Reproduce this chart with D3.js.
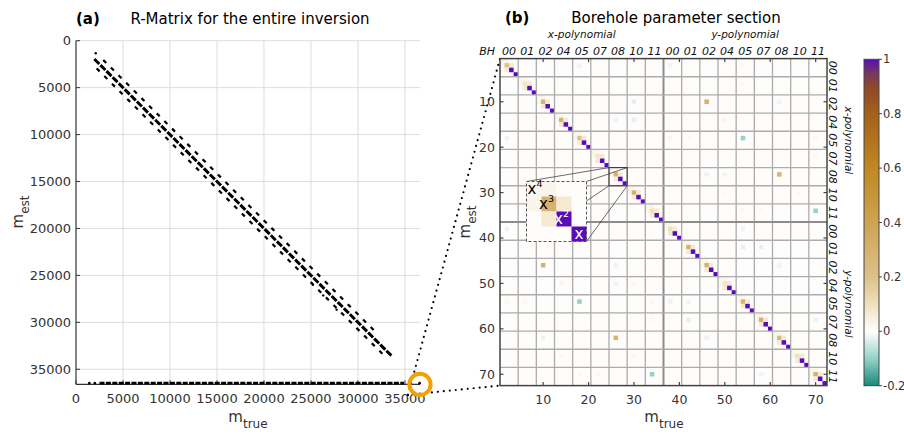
<!DOCTYPE html>
<html>
<head>
<meta charset="utf-8">
<script src="https://cdn.jsdelivr.net/npm/d3@7/dist/d3.min.js"></script>
<style>
  body { margin: 0; background: #fff; }
  svg { font-family: "DejaVu Sans", sans-serif; }
</style>
</head>
<body>
<svg id="chart" width="904" height="437"></svg>
<script>
// ---------- data : panel (a) ----------
const mTotal = 36600;
const ticksA = [0, 5000, 10000, 15000, 20000, 25000, 30000, 35000];
// diagonal bands of the R-matrix (m_est = m_true + offset)
const bandOffset = [0, -850, 750];
const bandStart = [1950, 2900, 2200];
const bandEnd = [33650, 32000, 32700];
const strayX = [2100, 26300, 27730, 25200];
const strayY = [1340, 27130, 28650, 26000];
// borehole parameter row at the bottom of the matrix
const bottomRowY = 36480;
const bottomRowStart = 2500;
const bottomRowEnd = 34900;
const bottomStrayX = [1420, 2000, 36560];
const zoomCenter = 36600;

// ---------- data : panel (b) ----------
const boreholes = ['00', '01', '02', '04', '05', '07', '08', '10', '11'];
const polyNames = ['x-polynomial', 'y-polynomial'];
const ticksB = [10, 20, 30, 40, 50, 60, 70];
const nPar = 72;
// one 4x4 block (x^4, x^3, x^2, x); the x^3 diagonal comes from x3Diag
const blockTemplate = [
  [0.03, 0.03, 0.01, 0],
  [0.03, null, 0.07, 0],
  [0.01, 0.07, 1.0, 0],
  [0, 0, 0, 1.0]
];
const x3Diag = [0.2, 0.08, 0.3, 0.3, 0.2, 0.08, 0.3, 0.3, 0.1,
                0.1, 0.3, 0.3, 0.08, 0.3, 0.3, 0.25, 0.1, 0.3];
const offRows = [10, 46, 18, 54, 26, 62, 34, 70,
                 10, 14, 14, 14, 18, 18, 18, 18, 22, 26, 26, 30, 30, 34, 34,
                 38, 38, 42, 42, 42, 46, 46, 50, 50, 50, 54, 54, 54, 54, 54,
                 58, 58, 58, 62, 62, 66, 66, 70, 70, 70, 6, 2, 2, 2, 10];
const offCols = [46, 10, 54, 18, 62, 26, 70, 34,
                 30, 26, 30, 50, 2, 38, 42, 70, 70, 46, 50, 50, 66, 54, 58,
                 2, 54, 18, 54, 58, 26, 62, 14, 26, 30, 2, 6, 34, 38, 42,
                 34, 42, 70, 10, 46, 14, 30, 18, 22, 58, 54, 54, 18, 38, 62];
const offVals = [0.3, 0.3, -0.1, -0.1, 0.28, 0.28, -0.1, -0.1,
                 -0.03, -0.02, -0.03, 0.03, -0.02, 0.03, 0.02, 0.02, 0.02, -0.02, -0.02, 0.02, 0.02, 0.02, 0.02,
                 -0.02, -0.02, 0.02, -0.03, -0.03, -0.02, -0.02, 0.03, -0.02, 0.02, 0.02, 0.02, 0.02, -0.02, -0.02,
                 0.02, -0.03, -0.02, -0.02, -0.02, 0.02, 0.02, 0.02, 0.02, -0.02, 0.02, 0.02, -0.02, -0.02, -0.02];
const insetFirst = 25; // parameters 25..28 (x-polynomial, borehole 08)
const insetLabels = ['x', 'x', 'x', 'x'];
const insetPowers = ['4', '3', '2', ''];

// colour map
const cmapVals = [-0.2, -0.1, 0, 0.1, 0.2, 0.4, 0.6, 0.8, 0.9, 0.95, 1];
const cmapColors = ['#19897a', '#94d3c8', '#ffffff', '#efdfbd', '#dcc18a', '#cea352',
                    '#c08822', '#a5601b', '#8e4828', '#763663', '#5a0bb9'];
const cbTicks = [-0.2, 0, 0.2, 0.4, 0.6, 0.8, 1];

// ---------- setup ----------
const svg = d3.select('#chart');
const ink = '#333333';

const xA = d3.scaleLinear().domain([0, mTotal]).range([76, 420]);
const yA = d3.scaleLinear().domain([0, mTotal]).range([40.7, 384.3]);

const xB = d3.scaleLinear().domain([0.5, nPar + 0.5]).range([500, 827]);
const yB = d3.scaleLinear().domain([0.5, nPar + 0.5]).range([58.6, 385.6]);

const color = d3.scaleLinear().domain(cmapVals).range(cmapColors)
  .interpolate(d3.interpolateRgb).clamp(true);

// ---------- panel (a) ----------
const gA = svg.append('g');

gA.append('g').selectAll('line.gx')
  .data(ticksA.slice(1))
  .enter().append('line')
  .attr('x1', d => xA(d)).attr('x2', d => xA(d))
  .attr('y1', yA(0)).attr('y2', yA(mTotal))
  .attr('stroke', '#dddddd').attr('stroke-width', 1);

gA.append('g').selectAll('line.gy')
  .data(ticksA)
  .enter().append('line')
  .attr('x1', xA(0)).attr('x2', xA(mTotal))
  .attr('y1', d => yA(d)).attr('y2', d => yA(d))
  .attr('stroke', '#dddddd').attr('stroke-width', 1);

// axes: left and bottom spines, inward ticks
gA.append('line')
  .attr('x1', xA(0)).attr('x2', xA(0)).attr('y1', yA(0)).attr('y2', yA(mTotal))
  .attr('stroke', ink).attr('stroke-width', 1.2);
gA.append('line')
  .attr('x1', xA(0)).attr('x2', xA(mTotal)).attr('y1', yA(mTotal)).attr('y2', yA(mTotal))
  .attr('stroke', ink).attr('stroke-width', 1.2);

gA.selectAll('line.ty').data(ticksA).enter().append('line')
  .attr('x1', xA(0)).attr('x2', xA(0) + 4)
  .attr('y1', d => yA(d)).attr('y2', d => yA(d))
  .attr('stroke', ink);
gA.selectAll('line.tx').data(ticksA).enter().append('line')
  .attr('x1', d => xA(d)).attr('x2', d => xA(d))
  .attr('y1', yA(mTotal)).attr('y2', yA(mTotal) - 4)
  .attr('stroke', ink);

gA.selectAll('text.ly').data(ticksA).enter().append('text')
  .attr('x', xA(0) - 5).attr('y', d => yA(d) + 4.5)
  .attr('text-anchor', 'end').attr('font-size', 13).attr('fill', ink)
  .text(d => d);
gA.selectAll('text.lx').data(ticksA).enter().append('text')
  .attr('x', d => xA(d)).attr('y', 403)
  .attr('text-anchor', 'middle').attr('font-size', 13).attr('fill', ink)
  .text(d => d);

// diagonal bands
const bands = bandOffset.map((o, i) => ({offset: o, start: bandStart[i], end: bandEnd[i]}));
gA.append('g').selectAll('line')
  .data(bands)
  .enter().append('line')
  .attr('x1', d => xA(d.start)).attr('y1', d => yA(d.start + d.offset))
  .attr('x2', d => xA(d.end)).attr('y2', d => yA(d.end + d.offset))
  .attr('stroke', '#000')
  .attr('stroke-width', d => d.offset === 0 ? 3 : 2.2)
  .attr('stroke-dasharray', d => d.offset === 0 ? '7,1.6' : '4.2,6.6');

gA.append('g').selectAll('circle')
  .data(strayX.map((x, i) => [x, strayY[i]]))
  .enter().append('circle')
  .attr('cx', d => xA(d[0])).attr('cy', d => yA(d[1]))
  .attr('r', 1.2).attr('fill', '#000');

gA.append('line')
  .attr('x1', xA(bottomRowStart)).attr('x2', xA(bottomRowEnd))
  .attr('y1', yA(bottomRowY)).attr('y2', yA(bottomRowY))
  .attr('stroke', '#000').attr('stroke-width', 2.6)
  .attr('stroke-dasharray', '5,1.4');
gA.append('g').selectAll('circle')
  .data(bottomStrayX)
  .enter().append('circle')
  .attr('cx', d => xA(d)).attr('cy', yA(bottomRowY))
  .attr('r', 1.3).attr('fill', '#000');

gA.append('text')
  .attr('x', 76).attr('y', 24).attr('font-size', 15).attr('font-weight', 'bold')
  .text('(a)');
gA.append('text')
  .attr('x', 250).attr('y', 24).attr('font-size', 15).attr('text-anchor', 'middle')
  .text('R-Matrix for the entire inversion');

const labA = gA.append('text')
  .attr('x', 248).attr('y', 422).attr('text-anchor', 'middle')
  .attr('font-size', 15).attr('fill', ink);
labA.append('tspan').text('m');
labA.append('tspan').attr('dy', 6).attr('font-size', 12).text('true');

const labAy = gA.append('text')
  .attr('transform', 'translate(23,212) rotate(-90)')
  .attr('text-anchor', 'middle').attr('font-size', 15).attr('fill', ink);
labAy.append('tspan').text('m');
labAy.append('tspan').attr('dy', 6).attr('font-size', 12).text('est');

// ---------- panel (b) ----------
const gB = svg.append('g');

// dotted zoom connectors from the circled corner
const cx0 = xA(zoomCenter), cy0 = yA(zoomCenter);
gB.append('g').selectAll('line')
  .data([0.5, nPar + 0.5])
  .enter().append('line')
  .attr('x1', cx0 - 12).attr('y1', cy0 + 10.5)
  .attr('x2', xB(0.5)).attr('y2', d => yB(d))
  .attr('stroke', '#000').attr('stroke-width', 2.2)
  .attr('stroke-linecap', 'round').attr('stroke-dasharray', '0,6');

svg.append('circle')
  .attr('cx', cx0).attr('cy', cy0).attr('r', 10.6)
  .attr('fill', 'none').attr('stroke', '#f5a000').attr('stroke-width', 4);

// build the matrix
const M = Array.from({length: nPar}, () => new Array(nPar).fill(0));
for (let b = 0; b < nPar / 4; b++) {
  for (let i = 0; i < 4; i++) {
    for (let j = 0; j < 4; j++) {
      let v = blockTemplate[i][j];
      if (v === null) v = x3Diag[b];
      M[b * 4 + i][b * 4 + j] = v;
    }
  }
}
offRows.forEach((r, k) => { M[r - 1][offCols[k] - 1] = offVals[k]; });

const cells = [];
M.forEach((row, r) => row.forEach((v, c) => {
  if (v !== 0) cells.push({row: r + 1, col: c + 1, v: v});
}));

const bg = '#fefdfb';
gB.append('rect')
  .attr('x', xB(0.5)).attr('y', yB(0.5))
  .attr('width', xB(nPar + 0.5) - xB(0.5)).attr('height', yB(nPar + 0.5) - yB(0.5))
  .attr('fill', bg);

gB.append('g').selectAll('rect')
  .data(cells)
  .enter().append('rect')
  .attr('x', d => xB(d.col - 0.5)).attr('y', d => yB(d.row - 0.5))
  .attr('width', xB(1.5) - xB(0.5)).attr('height', yB(1.5) - yB(0.5))
  .attr('fill', d => color(d.v));

// block grid
const blockEdges = d3.range(4.5, nPar, 4);
gB.append('g').selectAll('line')
  .data(blockEdges)
  .enter().append('line')
  .attr('x1', d => xB(d)).attr('x2', d => xB(d))
  .attr('y1', yB(0.5)).attr('y2', yB(nPar + 0.5))
  .attr('stroke', d => d === nPar / 2 + 0.5 ? '#8c8c8c' : '#acacac')
  .attr('stroke-width', d => d === nPar / 2 + 0.5 ? 2 : 1.3);
gB.append('g').selectAll('line')
  .data(blockEdges)
  .enter().append('line')
  .attr('y1', d => yB(d)).attr('y2', d => yB(d))
  .attr('x1', xB(0.5)).attr('x2', xB(nPar + 0.5))
  .attr('stroke', d => d === nPar / 2 + 0.5 ? '#8c8c8c' : '#acacac')
  .attr('stroke-width', d => d === nPar / 2 + 0.5 ? 2 : 1.3);

// frame and inward ticks
gB.append('rect')
  .attr('x', xB(0.5)).attr('y', yB(0.5))
  .attr('width', xB(nPar + 0.5) - xB(0.5)).attr('height', yB(nPar + 0.5) - yB(0.5))
  .attr('fill', 'none').attr('stroke', '#444').attr('stroke-width', 1.5);

ticksB.forEach(t => {
  [[xB(t), yB(nPar + 0.5), xB(t), yB(nPar + 0.5) - 3.5],
   [xB(t), yB(0.5), xB(t), yB(0.5) + 3.5],
   [xB(0.5), yB(t), xB(0.5) + 3.5, yB(t)],
   [xB(nPar + 0.5), yB(t), xB(nPar + 0.5) - 3.5, yB(t)]].forEach(p => {
    gB.append('line')
      .attr('x1', p[0]).attr('y1', p[1]).attr('x2', p[2]).attr('y2', p[3])
      .attr('stroke', '#444').attr('stroke-width', 1.2);
  });
});

gB.selectAll('text.bx').data(ticksB).enter().append('text')
  .attr('x', d => xB(d)).attr('y', 404)
  .attr('text-anchor', 'middle').attr('font-size', 12.5).attr('fill', ink)
  .text(d => d);
gB.selectAll('text.by').data(ticksB).enter().append('text')
  .attr('x', 495).attr('y', d => yB(d) + 4.5)
  .attr('text-anchor', 'end').attr('font-size', 12.5).attr('fill', ink)
  .text(d => d);

// borehole labels on top and right
const blockLabels = polyNames.flatMap((p, pi) => boreholes.map((b, bi) => ({
  name: b, center: (pi * boreholes.length + bi) * 4 + 2.5
})));
gB.selectAll('text.top').data(blockLabels).enter().append('text')
  .attr('x', d => xB(d.center)).attr('y', 55)
  .attr('text-anchor', 'middle').attr('font-size', 11).attr('font-style', 'italic')
  .attr('fill', '#111')
  .text(d => d.name);
gB.append('text')
  .attr('x', 495).attr('y', 55).attr('text-anchor', 'end')
  .attr('font-size', 11).attr('font-style', 'italic').attr('fill', '#111')
  .text('BH');
gB.selectAll('text.right').data(blockLabels).enter().append('text')
  .attr('transform', d => `translate(829,${yB(d.center)}) rotate(90)`)
  .attr('text-anchor', 'middle').attr('font-size', 11).attr('font-style', 'italic')
  .attr('fill', '#111')
  .text(d => d.name);

polyNames.forEach((p, pi) => {
  const mid = pi * nPar / 2 + nPar / 4 + 0.5;
  gB.append('text')
    .attr('x', xB(mid)).attr('y', 38)
    .attr('text-anchor', 'middle').attr('font-size', 10.5).attr('font-style', 'italic')
    .attr('fill', '#111').text(p);
  gB.append('text')
    .attr('transform', `translate(845,${yB(mid)}) rotate(90)`)
    .attr('text-anchor', 'middle').attr('font-size', 10.5).attr('font-style', 'italic')
    .attr('fill', '#111').text(p);
});

gB.append('text')
  .attr('x', 505).attr('y', 22.5).attr('font-size', 15).attr('font-weight', 'bold')
  .text('(b)');
gB.append('text')
  .attr('x', 676).attr('y', 22.5).attr('font-size', 15).attr('text-anchor', 'middle')
  .text('Borehole parameter section');

const labB = gB.append('text')
  .attr('x', 664).attr('y', 422).attr('text-anchor', 'middle')
  .attr('font-size', 15).attr('fill', ink);
labB.append('tspan').text('m');
labB.append('tspan').attr('dy', 6).attr('font-size', 12).text('true');

const labBy = gB.append('text')
  .attr('transform', 'translate(470,222) rotate(-90)')
  .attr('text-anchor', 'middle').attr('font-size', 15).attr('fill', ink);
labBy.append('tspan').text('m');
labBy.append('tspan').attr('dy', 6).attr('font-size', 12).text('est');

// ---------- inset ----------
const insetX = d3.scaleLinear().domain([insetFirst - 0.5, insetFirst + 3.5]).range([526.5, 586.5]);
const insetY = d3.scaleLinear().domain([insetFirst - 0.5, insetFirst + 3.5]).range([181.5, 241.5]);
const src = [xB(insetFirst - 0.5), yB(insetFirst - 0.5), xB(insetFirst + 3.5), yB(insetFirst + 3.5)];
const dst = [insetX.range()[0], insetY.range()[0], insetX.range()[1], insetY.range()[1]];

const gI = svg.append('g');
[[0, 1], [2, 1], [0, 3], [2, 3]].forEach(c => {
  gI.append('line')
    .attr('x1', src[c[0]]).attr('y1', src[c[1]])
    .attr('x2', dst[c[0]]).attr('y2', dst[c[1]])
    .attr('stroke', '#444').attr('stroke-width', 0.8);
});
gI.append('rect')
  .attr('x', src[0]).attr('y', src[1])
  .attr('width', src[2] - src[0]).attr('height', src[3] - src[1])
  .attr('fill', 'none').attr('stroke', '#333').attr('stroke-width', 1);

const insetCells = [];
for (let r = 0; r < 4; r++) {
  for (let c = 0; c < 4; c++) {
    insetCells.push({row: insetFirst + r, col: insetFirst + c, v: M[insetFirst - 1 + r][insetFirst - 1 + c]});
  }
}
gI.append('rect')
  .attr('x', dst[0]).attr('y', dst[1])
  .attr('width', dst[2] - dst[0]).attr('height', dst[3] - dst[1])
  .attr('fill', bg);
gI.append('g').selectAll('rect')
  .data(insetCells.filter(d => d.v !== 0))
  .enter().append('rect')
  .attr('x', d => insetX(d.col - 0.5)).attr('y', d => insetY(d.row - 0.5))
  .attr('width', insetX(1) - insetX(0)).attr('height', insetY(1) - insetY(0))
  .attr('fill', d => color(d.v));
gI.append('rect')
  .attr('x', dst[0]).attr('y', dst[1])
  .attr('width', dst[2] - dst[0]).attr('height', dst[3] - dst[1])
  .attr('fill', 'none').attr('stroke', '#555').attr('stroke-width', 1)
  .attr('stroke-dasharray', '3,2');

insetLabels.forEach((l, i) => {
  const p = insetFirst + i;
  const t = gI.append('text')
    .attr('x', i === 0 ? insetX(p - 0.5) + 1 : insetX(p) - (insetPowers[i] ? 2.5 : 0))
    .attr('y', insetY(p + 0.5) - 2.5)
    .attr('text-anchor', i === 0 ? 'start' : 'middle')
    .attr('font-size', 15)
    .attr('fill', i >= 2 ? '#fff' : '#000');
  t.append('tspan').text(l);
  if (insetPowers[i]) {
    t.append('tspan').attr('dy', -7).attr('font-size', 9.5).text(insetPowers[i]);
  }
});

// ---------- colour bar ----------
const cb = d3.scaleLinear().domain([-0.2, 1]).range([385.7, 59.3]);
const defs = svg.append('defs');
const grad = defs.append('linearGradient').attr('id', 'cbGrad')
  .attr('x1', 0).attr('y1', 1).attr('x2', 0).attr('y2', 0);
grad.selectAll('stop').data(cmapVals).enter().append('stop')
  .attr('offset', d => (d + 0.2) / 1.2)
  .attr('stop-color', d => color(d));

svg.append('rect')
  .attr('x', 864).attr('y', cb(1)).attr('width', 15).attr('height', cb(-0.2) - cb(1))
  .attr('fill', 'url(#cbGrad)').attr('stroke', '#444').attr('stroke-width', 1);
svg.selectAll('line.cbt').data(cbTicks).enter().append('line')
  .attr('x1', 879).attr('x2', 882).attr('y1', d => cb(d)).attr('y2', d => cb(d))
  .attr('stroke', '#444');
svg.selectAll('text.cbl').data(cbTicks).enter().append('text')
  .attr('x', 883).attr('y', d => cb(d) + 4)
  .attr('font-size', 11.5).attr('fill', ink)
  .text(d => d);
</script>
</body>
</html>
